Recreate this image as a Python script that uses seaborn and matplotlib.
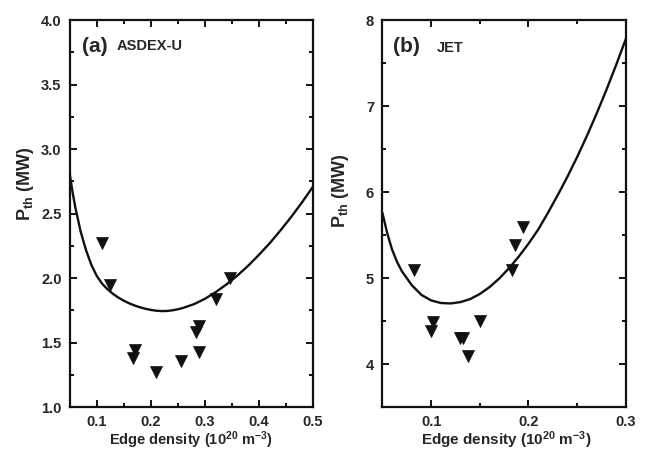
import numpy as np
import pandas as pd
import matplotlib
matplotlib.use("Agg")
import matplotlib.pyplot as plt
import seaborn as sns
from matplotlib.ticker import MultipleLocator, FormatStrFormatter

sns.set_style("ticks")
plt.rcParams['font.family'] = ['Liberation Sans', 'DejaVu Sans']
plt.rcParams['font.weight'] = 'bold'
plt.rcParams['mathtext.default'] = 'regular'

# ASDEX-U datos medidos
n_aug = [0.110, 0.124, 0.166, 0.170, 0.209, 0.255, 0.284, 0.289, 0.289, 0.320, 0.347]
p_aug = [2.27, 1.95, 1.38, 1.44, 1.27, 1.36, 1.58, 1.63, 1.43, 1.84, 2.00]
# curva de ajuste
n_aug_fit = [0.050, 0.055, 0.060, 0.070, 0.080, 0.090, 0.100, 0.110, 0.120, 0.130,
             0.140, 0.150, 0.160, 0.170, 0.180, 0.190, 0.200, 0.210, 0.220, 0.230,
             0.240, 0.250, 0.260, 0.280, 0.300, 0.320, 0.340, 0.360, 0.380, 0.400,
             0.420, 0.440, 0.460, 0.480, 0.500]
p_aug_fit = [2.800, 2.665, 2.550, 2.360, 2.215, 2.100, 2.015, 1.955, 1.912, 1.877,
             1.848, 1.824, 1.804, 1.787, 1.773, 1.762, 1.753, 1.747, 1.744, 1.745,
             1.750, 1.758, 1.769, 1.798, 1.839, 1.891, 1.951, 2.019, 2.095, 2.180,
             2.270, 2.370, 2.475, 2.588, 2.708]

# JET datos medidos
n_jet = [0.0822, 0.1017, 0.100, 0.130, 0.133, 0.138, 0.150, 0.183, 0.186, 0.194]
p_jet = [5.09, 4.49, 4.39, 4.30, 4.30, 4.09, 4.50, 5.09, 5.39, 5.60]
n_jet_fit = [0.050, 0.055, 0.060, 0.065, 0.070, 0.080, 0.090, 0.100, 0.110, 0.120,
             0.130, 0.140, 0.150, 0.160, 0.170, 0.180, 0.190, 0.200, 0.210, 0.220,
             0.230, 0.240, 0.250, 0.260, 0.270, 0.280, 0.290, 0.300]
p_jet_fit = [5.760, 5.520, 5.330, 5.190, 5.080, 4.920, 4.805, 4.740, 4.710, 4.705,
             4.720, 4.755, 4.815, 4.895, 4.995, 5.115, 5.250, 5.400, 5.565, 5.760,
             5.965, 6.180, 6.410, 6.655, 6.915, 7.190, 7.480, 7.785]

fig = plt.figure(figsize=(6.47, 4.54), dpi=100)
ax1 = fig.add_axes([0.108, 0.1035, 0.3756, 0.852])
ax2 = fig.add_axes([0.591, 0.1035, 0.3764, 0.852])

df_a = pd.DataFrame({'n': n_aug, 'p': p_aug})
df_af = pd.DataFrame({'n': n_aug_fit, 'p': p_aug_fit})
df_j = pd.DataFrame({'n': n_jet, 'p': p_jet})
df_jf = pd.DataFrame({'n': n_jet_fit, 'p': p_jet_fit})

for ax, d, f in [(ax1, df_a, df_af), (ax2, df_j, df_jf)]:
    sns.lineplot(data=f, x='n', y='p', ax=ax, color='#111111', lw=1.7, sort=False)
    sns.scatterplot(data=d, x='n', y='p', ax=ax, marker='v', s=75, color='#111111',
                    edgecolor='#111111', linewidth=0.5, zorder=3)

ax1.set_xlim(0.05, 0.5)
ax1.set_ylim(1.0, 4.0)
ax1.xaxis.set_minor_locator(MultipleLocator(0.05))
ax1.yaxis.set_major_locator(MultipleLocator(0.5))
ax1.yaxis.set_minor_locator(MultipleLocator(0.25))
ax1.yaxis.set_major_formatter(FormatStrFormatter('%.1f'))
ax1.set_xticks([0.1, 0.2, 0.3, 0.4, 0.5])

ax2.set_xlim(0.05, 0.3)
ax2.set_ylim(3.5, 8.0)
ax2.xaxis.set_minor_locator(MultipleLocator(0.05))
ax2.set_xticks([0.1, 0.2, 0.3])
ax2.yaxis.set_major_locator(MultipleLocator(1))
ax2.yaxis.set_minor_locator(MultipleLocator(0.5))

for ax in (ax1, ax2):
    for s in ax.spines.values():
        s.set_linewidth(1.6)
        s.set_color('#111111')
    ax.tick_params(which='both', direction='in', top=True, right=True,
                   width=1.4, color='#111111', labelsize=10.5, pad=6)
    ax.tick_params(which='major', length=5)
    ax.tick_params(which='minor', length=3)
    for lab in ax.get_xticklabels() + ax.get_yticklabels():
        lab.set_fontweight('bold')
    ax.set_xlabel('')
    ax.set_ylabel('')

fig.text(0.039, 0.595, r'P$_{th}$ (MW)', rotation=90, fontsize=13,
         fontweight='bold', ha='center', va='center')
fig.text(0.527, 0.58, r'P$_{th}$ (MW)', rotation=90, fontsize=13,
         fontweight='bold', ha='center', va='center')
fig.text(0.295, 0.006, r'Edge density (10$^{20}$ m$^{-3}$)', fontsize=10.5,
         fontweight='bold', ha='center', va='bottom')
fig.text(0.783, 0.006, r'Edge density (10$^{20}$ m$^{-3}$)', fontsize=11,
         fontweight='bold', ha='center', va='bottom')

ax1.text(0.05, 0.933, '(a)', transform=ax1.transAxes, fontsize=15, fontweight='bold',
         va='center')
ax1.text(0.193, 0.933, 'ASDEX-U', transform=ax1.transAxes, fontsize=10.5,
         fontweight='bold', va='center')
ax2.text(0.045, 0.933, '(b)', transform=ax2.transAxes, fontsize=15, fontweight='bold',
         va='center')
ax2.text(0.222, 0.928, 'JET', transform=ax2.transAxes, fontsize=10.5,
         fontweight='bold', va='center')

fig.savefig('out.png', dpi=100)
